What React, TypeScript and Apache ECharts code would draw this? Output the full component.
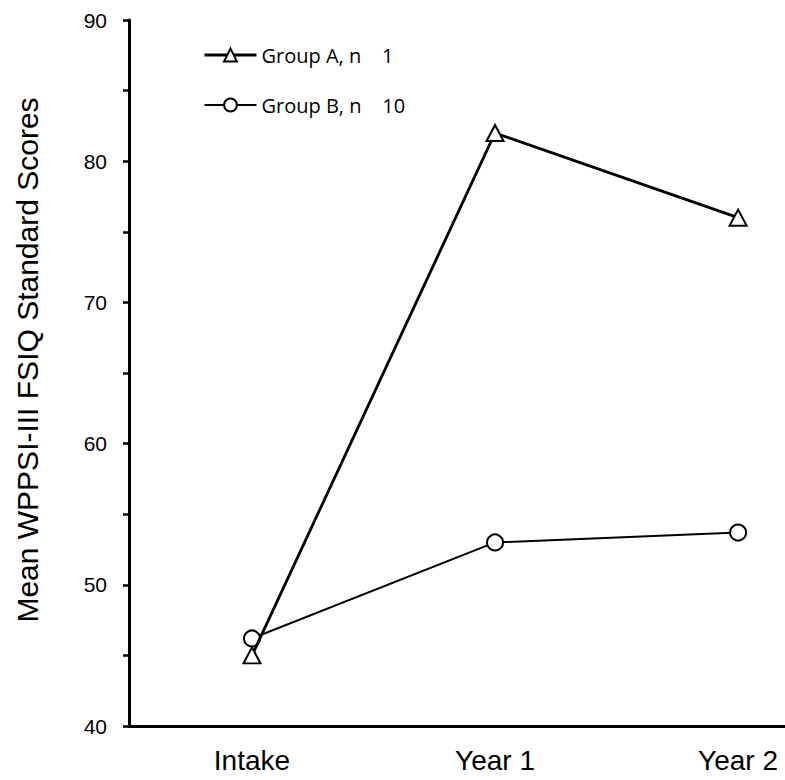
import React, { useEffect, useRef } from "react";
import * as echarts from "echarts";

const categories = ["Intake", "Year 1", "Year 2"];
const groupAName = "Group A, n    1";
const groupBName = "Group B, n    10";
const groupA = [45.0, 82.0, 76.0];
const groupB = [46.2, 53.0, 53.7];
const yTicks = [40, 50, 60, 70, 80, 90];
const yTitle = "Mean WPPSI-III FSIQ Standard Scores";

export default function App() {
  const ref = useRef<HTMLDivElement>(null);

  useEffect(() => {
    if (!ref.current) return;
    const chart = echarts.init(ref.current, null, { renderer: "svg" });
    const toPoints = (vals: number[]) => vals.map((v, i) => [i, v]);
    chart.setOption({
      animation: false,
      backgroundColor: "#ffffff",
      grid: { left: 129, right: 0, top: 20, bottom: 54 },
      graphic: [
        {
          type: "text",
          x: 27,
          y: 360,
          rotation: Math.PI / 2,
          style: {
            text: yTitle,
            fontFamily: "Liberation Sans, Arial, sans-serif",
            fontSize: 30,
            fill: "#000",
            align: "center",
            verticalAlign: "middle",
          },
        },
      ],
      legend: {
        left: 198,
        top: 40,
        orient: "vertical",
        itemGap: 30,
        itemWidth: 52,
        itemHeight: 16,
        textStyle: { fontFamily: "Open Sans, sans-serif", fontSize: 20, color: "#000" },
        data: [
          { name: groupAName, itemStyle: { borderWidth: 2 }, lineStyle: { width: 3 } },
          { name: groupBName, itemStyle: { borderWidth: 2 }, lineStyle: { width: 2.2 } },
        ],
      },
      xAxis: {
        type: "value",
        min: -0.506,
        max: 2.193,
        splitLine: { show: false },
        axisLine: { onZero: false, lineStyle: { color: "#000", width: 3 } },
        axisTick: { show: false },
        axisLabel: {
          customValues: [0, 1, 2],
          formatter: (v: number) => categories[Math.round(v)] ?? "",
          margin: 20,
          fontFamily: "Liberation Sans, Arial, sans-serif",
          fontSize: 28,
          color: "#000",
        },
      },
      yAxis: {
        type: "value",
        min: 40,
        max: 90,
        interval: 5,
        splitLine: { show: false },
        axisLine: { show: true, onZero: false, lineStyle: { color: "#000", width: 3 } },
        axisTick: { show: true, length: 6, lineStyle: { color: "#000", width: 2.5 } },
        axisLabel: {
          margin: 22,
          fontFamily: "Liberation Sans, Arial, sans-serif",
          fontSize: 21,
          color: "#000",
          formatter: (v: number) => (yTicks.includes(v) ? String(v) : ""),
        },
      },
      series: [
        {
          name: groupAName,
          type: "line",
          data: toPoints(groupA),
          symbol: "triangle",
          symbolSize: [17, 16],
          lineStyle: { color: "#000", width: 2.8 },
          itemStyle: { color: "#fff", borderColor: "#000", borderWidth: 2 },
          z: 3,
        },
        {
          name: groupBName,
          type: "line",
          data: toPoints(groupB),
          symbol: "circle",
          symbolSize: 16,
          lineStyle: { color: "#000", width: 2 },
          itemStyle: { color: "#fff", borderColor: "#000", borderWidth: 2 },
          z: 2,
        },
      ],
    });
    return () => chart.dispose();
  }, []);

  return <div ref={ref} style={{ width: 785, height: 780, position: "absolute", left: 0, top: 0 }} />;
}
